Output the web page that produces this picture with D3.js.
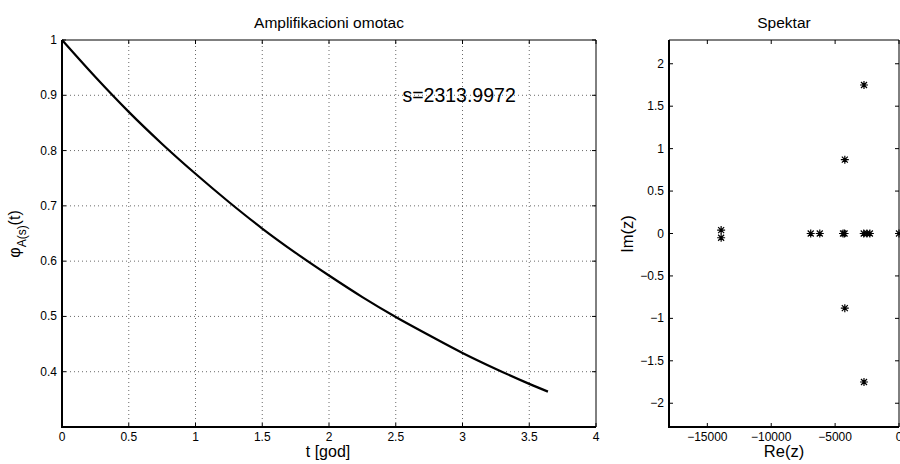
<!DOCTYPE html>
<html>
<head>
<meta charset="utf-8">
<script src="https://cdn.jsdelivr.net/npm/d3@7"></script>
<style>
  body { margin: 0; background: #fff; }
  text { font-family: "Liberation Sans", Arial, Helvetica, sans-serif; fill: #000; }
</style>
</head>
<body>
<script>
// left panel: amplification envelope
var tValues = [0, 0.25, 0.5, 0.75, 1, 1.25, 1.5, 1.75, 2, 2.25, 2.5, 2.75, 3, 3.25, 3.5, 3.64];
var phiValues = [1, 0.933, 0.870, 0.812, 0.758, 0.707, 0.659, 0.615, 0.574, 0.535, 0.499, 0.466, 0.434, 0.405, 0.378, 0.364];
var tTicks = [0, 0.5, 1, 1.5, 2, 2.5, 3, 3.5, 4];
var phiTicks = [0.4, 0.5, 0.6, 0.7, 0.8, 0.9, 1];
var sLabel = 's=2313.9972';
var sLabelPos = [2.55, 0.9];

// right panel: spectrum
var reValues = [-13920, -13920, -6910, -6200, -4380, -4260, -4240, -4240, -2740, -2740, -2760, -2510, -2280, 0];
var imValues = [0.04, -0.05, 0, 0, 0, 0, 0.87, -0.88, 1.75, -1.75, 0, 0, 0, 0];
var reTicks = [-15000, -10000, -5000, 0];
var imTicks = [-2, -1.5, -1, -0.5, 0, 0.5, 1, 1.5, 2];

var width = 900, height = 464;
var svg = d3.select('body').append('svg')
  .attr('width', width)
  .attr('height', height);

var fmt = function(d) { return String(d).replace('-', '\u2212'); };

function drawBox(g, x, y, xt, yt, grid) {
  var x0 = x.range()[0], x1 = x.range()[1];
  var y0 = y.range()[0], y1 = y.range()[1];
  if (grid) {
    xt.forEach(function(d) {
      if (x(d) > x0 + 1 && x(d) < x1 - 1)
        g.append('line').attr('x1', x(d)).attr('x2', x(d)).attr('y1', y0).attr('y2', y1)
          .attr('stroke', '#444').attr('stroke-width', 0.8).attr('stroke-dasharray', '1,3');
    });
    yt.forEach(function(d) {
      if (y(d) < y0 - 1 && y(d) > y1 + 1)
        g.append('line').attr('x1', x0).attr('x2', x1).attr('y1', y(d)).attr('y2', y(d))
          .attr('stroke', '#444').attr('stroke-width', 0.8).attr('stroke-dasharray', '1,3');
    });
  }
  // inward ticks on all four sides
  xt.forEach(function(d) {
    g.append('line').attr('x1', x(d)).attr('x2', x(d)).attr('y1', y0).attr('y2', y0 - 4).attr('stroke', '#000');
    g.append('line').attr('x1', x(d)).attr('x2', x(d)).attr('y1', y1).attr('y2', y1 + 4).attr('stroke', '#000');
    g.append('text').attr('x', x(d)).attr('y', y0 + 14).attr('text-anchor', 'middle')
      .attr('font-size', '12px').text(fmt(d));
  });
  yt.forEach(function(d) {
    g.append('line').attr('x1', x0).attr('x2', x0 + 4).attr('y1', y(d)).attr('y2', y(d)).attr('stroke', '#000');
    g.append('line').attr('x1', x1).attr('x2', x1 - 4).attr('y1', y(d)).attr('y2', y(d)).attr('stroke', '#000');
    g.append('text').attr('x', x0 - 5).attr('y', y(d) + 4).attr('text-anchor', 'end')
      .attr('font-size', '12px').text(fmt(d));
  });
  g.append('line').attr('x1', x0).attr('x2', x1).attr('y1', y1).attr('y2', y1).attr('stroke', '#000');
  g.append('line').attr('x1', x1).attr('x2', x1).attr('y1', y0).attr('y2', y1).attr('stroke', '#000');
  g.append('line').attr('x1', x0).attr('x2', x1).attr('y1', y0).attr('y2', y0).attr('stroke', '#000').attr('stroke-width', 2);
  g.append('line').attr('x1', x0).attr('x2', x0).attr('y1', y0 + 1).attr('y2', y1).attr('stroke', '#000').attr('stroke-width', 2);
}

// ---- left panel
var x1 = d3.scaleLinear().domain([0, 4]).range([62, 596]);
var y1 = d3.scaleLinear().domain([0.3, 1]).range([427, 40]);
var left = svg.append('g');
drawBox(left, x1, y1, tTicks, phiTicks, true);

var line = d3.line()
  .x(function(d, i) { return x1(tValues[i]); })
  .y(function(d) { return y1(d); })
  .curve(d3.curveMonotoneX);
left.append('path').datum(phiValues)
  .attr('d', line)
  .attr('fill', 'none')
  .attr('stroke', '#000')
  .attr('stroke-width', 2.2);

left.append('text').attr('x', x1(sLabelPos[0])).attr('y', y1(sLabelPos[1]) + 7)
  .attr('font-size', '19.5px').text(sLabel);

left.append('text').attr('x', 329).attr('y', 28).attr('text-anchor', 'middle')
  .attr('font-size', '15.5px').text('Amplifikacioni omotac');
left.append('text').attr('x', 328).attr('y', 457).attr('text-anchor', 'middle')
  .attr('font-size', '16px').text('t [god]');

var yl = left.append('text')
  .attr('transform', 'translate(20,234) rotate(-90)')
  .attr('text-anchor', 'middle')
  .attr('font-size', '16px');
yl.append('tspan').text('\u03c6');
yl.append('tspan').attr('font-size', '12px').attr('dy', 6).text('A(s)');
yl.append('tspan').attr('dy', -6).text('(t)');

// ---- right panel
var x2 = d3.scaleLinear().domain([-18000, 0]).range([669, 899]);
var y2 = d3.scaleLinear().domain([-2.28, 2.28]).range([427, 40]);
var right = svg.append('g');
drawBox(right, x2, y2, reTicks, imTicks, false);

var star = 'M-4,0L4,0M0,-4L0,4M-3,-3L3,3M-3,3L3,-3';
right.selectAll('path.star')
  .data(reValues)
  .enter().append('path')
  .attr('class', 'star')
  .attr('transform', function(d, i) { return 'translate(' + x2(d) + ',' + y2(imValues[i]) + ')'; })
  .attr('d', star)
  .attr('stroke', '#000')
  .attr('stroke-width', 1.2)
  .attr('fill', 'none');

right.append('text').attr('x', 784).attr('y', 28).attr('text-anchor', 'middle')
  .attr('font-size', '15.5px').text('Spektar');
right.append('text').attr('x', 784).attr('y', 457).attr('text-anchor', 'middle')
  .attr('font-size', '16.5px').text('Re(z)');
right.append('text')
  .attr('transform', 'translate(633,234) rotate(-90)')
  .attr('text-anchor', 'middle')
  .attr('font-size', '16.5px').text('Im(z)');
</script>
</body>
</html>
